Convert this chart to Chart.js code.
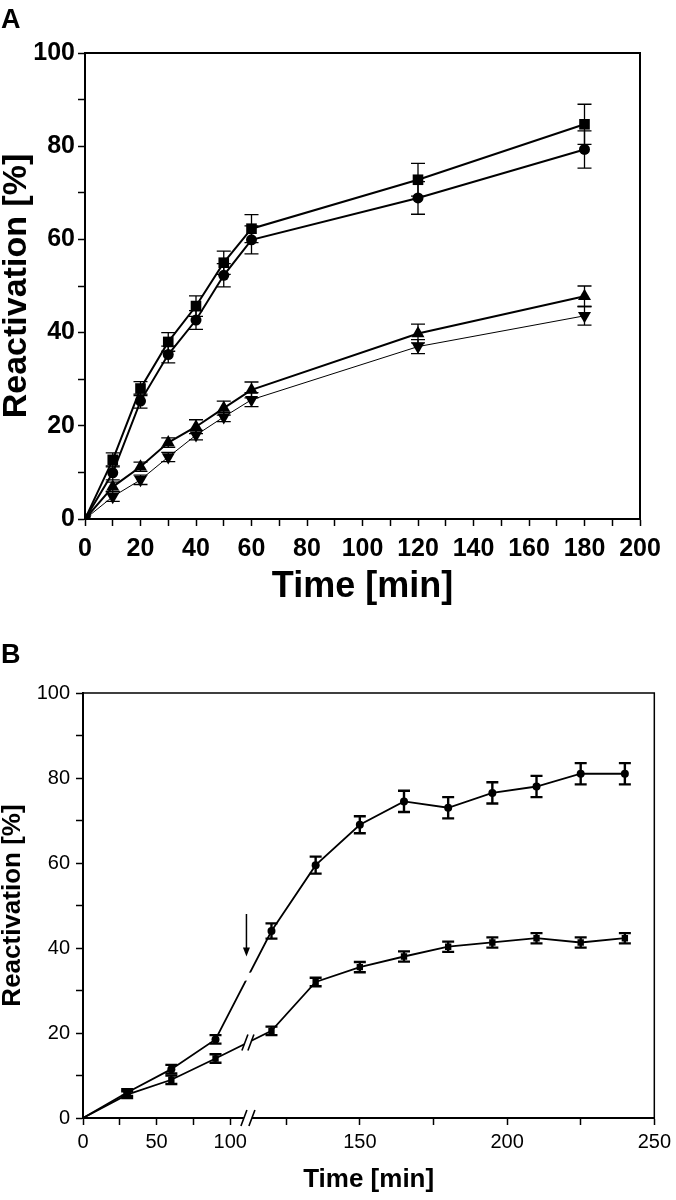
<!DOCTYPE html>
<html>
<head>
<meta charset="utf-8">
<script src="https://cdn.jsdelivr.net/npm/chart.js@4.4.1/dist/chart.umd.min.js"></script>
<style>
    body { margin: 0; background: #fff; width: 676px; height: 1200px; position: relative; overflow: hidden; }
    .panel { position: absolute; left: 0; width: 676px; }
    #wrapA { top: 0; height: 625px; }
    #wrapB { top: 625px; height: 575px; }
    .tag { position: absolute; left: 1px; font-family: 'Liberation Sans', Arial, sans-serif; font-weight: bold; font-size: 27px; line-height: 27px; }
</style>
</head>
<body>
<div class="panel" id="wrapA"><canvas id="chartA" width="676" height="625"></canvas></div>
<div class="panel" id="wrapB"><canvas id="chartB" width="676" height="575"></canvas></div>
<div class="tag" style="top:6px">A</div>
<div class="tag" style="top:641px">B</div>
<script>
// Panel A data — time in minutes, reactivation in %
var timeA = [0, 10, 20, 30, 40, 50, 60, 120, 180];
var squareA = [0, 12.7, 28, 38, 45.7, 55, 62.3, 72.8, 84.7];
var squareErrA = [0, 1.5, 1.5, 2, 2.2, 2.5, 3, 3.5, 4.3];
var circleA = [0, 9.9, 25.3, 35.3, 42.7, 52.3, 59.9, 68.9, 79.3];
var circleErrA = [0, 1.5, 1.5, 1.8, 2, 2.5, 3, 3.5, 4];
var triUpA = [0, 6.9, 11.2, 16.4, 19.8, 23.8, 27.7, 39.8, 47.8];
var triUpErrA = [0, 1, 1, 1, 1.5, 1.5, 1.7, 2, 2.2];
var triDownA = [0, 4.8, 8.4, 13.3, 18, 21.9, 25.6, 37, 43.6];
var triDownErrA = [0, 1, 1, 1, 1, 1, 1.5, 1.5, 2];

// Panel B data — broken time axis
var timeB = [0, 30, 60, 90, 120, 135, 150, 165, 180, 195, 210, 225, 240];
var upperB = [0, 6, 11.5, 18.5, 44, 59.5, 69, 74.5, 73, 76.5, 78, 81, 81];
var upperErrB = [0, 0.8, 1, 1, 1.8, 2, 2, 2.5, 2.5, 2.5, 2.5, 2.5, 2.5];
var lowerB = [0, 5.5, 9, 14, 20.5, 32, 35.5, 38, 40.3, 41.3, 42.3, 41.3, 42.3];
var lowerErrB = [0, 0.8, 1, 1, 1, 1, 1.2, 1.2, 1.2, 1.2, 1.2, 1.2, 1.2];

var BREAK_B = 112;      // minutes where the axis is broken
var STRETCH_B = 2;      // right part is drawn at twice the scale
var arrowB = { time: 111, from: 48, to: 38 };

var BOLD_NARROW = "'Liberation Sans Narrow', 'Liberation Sans', Arial, sans-serif";
var SANS = "'Liberation Sans', Arial, sans-serif";

Chart.defaults.color = '#000';
Chart.defaults.animation = false;

function toPoints(xs, ys) {
    return xs.map(function(x, i) { return { x: x, y: ys[i] }; });
}

// Piecewise linear scale: right of the break gets stretched
class BrokenLinearScale extends Chart.LinearScale {
    warp(v) { return v <= BREAK_B ? v : BREAK_B + (v - BREAK_B) * STRETCH_B; }
    unwarp(u) { return u <= BREAK_B ? u : BREAK_B + (u - BREAK_B) / STRETCH_B; }
    getPixelForValue(value) {
        var a = this.warp(this.min), b = this.warp(this.max);
        return this.getPixelForDecimal((this.warp(value) - a) / (b - a));
    }
    getValueForPixel(pixel) {
        var a = this.warp(this.min), b = this.warp(this.max);
        return this.unwarp(a + this.getDecimalForPixel(pixel) * (b - a));
    }
}
BrokenLinearScale.id = 'brokenLinear';
BrokenLinearScale.defaults = Chart.LinearScale.defaults;
Chart.register(BrokenLinearScale);

var errorBars = {
    id: 'errorBars',
    afterDatasetsDraw: function(chart, args, opts) {
        var ctx = chart.ctx;
        var ys = chart.scales.y;
        chart.data.datasets.forEach(function(ds, i) {
            if (!ds.errors) return;
            var meta = chart.getDatasetMeta(i);
            ctx.save();
            ctx.strokeStyle = '#000';
            ctx.lineWidth = opts.lineWidth;
            meta.data.forEach(function(pt, j) {
                var err = ds.errors[j];
                if (!err) return;
                var v = ds.data[j].y;
                var top = ys.getPixelForValue(v + err);
                var bot = ys.getPixelForValue(v - err);
                ctx.beginPath();
                ctx.moveTo(pt.x, top); ctx.lineTo(pt.x, bot);
                ctx.moveTo(pt.x - opts.cap, top); ctx.lineTo(pt.x + opts.cap, top);
                ctx.moveTo(pt.x - opts.cap, bot); ctx.lineTo(pt.x + opts.cap, bot);
                ctx.stroke();
            });
            ctx.restore();
        });
    }
};

var frame = {
    id: 'frame',
    afterDraw: function(chart, args, opts) {
        var a = chart.chartArea, ctx = chart.ctx;
        ctx.save();
        ctx.strokeStyle = '#000';
        ctx.lineWidth = opts.lineWidth;
        ctx.strokeRect(a.left, a.top, a.right - a.left, a.bottom - a.top);
        ctx.restore();
    }
};

// axis break marks, line break marks and the arrow of panel B
var breakMarks = {
    id: 'breakMarks',
    afterDraw: function(chart) {
        var ctx = chart.ctx;
        var xs = chart.scales.x, ys = chart.scales.y;
        var bx = xs.getPixelForValue(BREAK_B);
        var axisY = chart.chartArea.bottom;
        ctx.save();
        ctx.strokeStyle = '#000';
        ctx.lineWidth = 1.6;

        function slashes(cx, cy, gap) {
            ctx.fillStyle = '#fff';
            ctx.fillRect(cx - gap, cy - 5, gap * 2, 10);
            ctx.beginPath();
            ctx.moveTo(cx - gap - 3, cy + 8); ctx.lineTo(cx - gap + 3, cy - 8);
            ctx.moveTo(cx + gap - 3, cy + 8); ctx.lineTo(cx + gap + 3, cy - 8);
            ctx.stroke();
        }
        slashes(bx, axisY, 4);

        chart.data.datasets.forEach(function(ds, i) {
            var meta = chart.getDatasetMeta(i);
            for (var j = 0; j < ds.data.length - 1; j++) {
                if (ds.data[j].x < BREAK_B && ds.data[j + 1].x > BREAK_B) {
                    var p0 = meta.data[j], p1 = meta.data[j + 1];
                    var t = (bx - p0.x) / (p1.x - p0.x);
                    var cy = p0.y + t * (p1.y - p0.y);
                    if (ds.breakStyle === 'slash') {
                        slashes(bx, cy, 3);
                    } else {
                        ctx.fillStyle = '#fff';
                        ctx.fillRect(bx - 6, cy - 4, 12, 8);
                    }
                }
            }
        });

        var ax = xs.getPixelForValue(arrowB.time);
        var y0 = ys.getPixelForValue(arrowB.from), y1 = ys.getPixelForValue(arrowB.to);
        ctx.lineWidth = 1.5;
        ctx.beginPath();
        ctx.moveTo(ax, y0); ctx.lineTo(ax, y1 - 6);
        ctx.stroke();
        ctx.fillStyle = '#000';
        ctx.beginPath();
        ctx.moveTo(ax - 3.5, y1 - 9); ctx.lineTo(ax + 3.5, y1 - 9); ctx.lineTo(ax, y1);
        ctx.closePath();
        ctx.fill();
        ctx.restore();
    }
};

function seriesA(ys, errs, style, radius, width, rotation) {
    return {
        data: toPoints(timeA, ys),
        errors: errs,
        borderColor: '#000',
        backgroundColor: '#000',
        borderWidth: width,
        pointStyle: style,
        pointRadius: radius,
        pointRotation: rotation || 0,
        pointBorderWidth: 0,
        pointBackgroundColor: '#000',
        tension: 0
    };
}

new Chart(document.getElementById('chartA'), {
    type: 'line',
    data: {
        datasets: [
            seriesA(triDownA, triDownErrA, 'triangle', 7.5, 1, 180),
            seriesA(triUpA, triUpErrA, 'triangle', 7.5, 2),
            seriesA(circleA, circleErrA, 'circle', 5.5, 2),
            seriesA(squareA, squareErrA, 'rect', 7.5, 2)
        ]
    },
    options: {
        responsive: false,
        layout: { padding: { left: 0, top: 53, right: 36, bottom: 0 } },
        plugins: {
            legend: { display: false },
            tooltip: { enabled: false },
            errorBars: { lineWidth: 1.3, cap: 7 },
            frame: { lineWidth: 2 }
        },
        scales: {
            x: {
                type: 'linear',
                min: 0, max: 200,
                afterFit: function(s) { s.height = 106; },
                border: { color: '#000', width: 2 },
                grid: { drawOnChartArea: false, color: '#000', tickLength: 7, tickWidth: 1.5 },
                ticks: {
                    stepSize: 10, autoSkip: false, maxRotation: 0, padding: 8,
                    font: { family: BOLD_NARROW, size: 25, weight: 'bold' },
                    callback: function(v) { return v % 20 === 0 ? v : ''; }
                },
                title: {
                    display: true, text: 'Time [min]',
                    font: { family: BOLD_NARROW, size: 36, weight: 'bold', lineHeight: 1 },
                    padding: { top: 0, bottom: 20 }
                }
            },
            y: {
                min: 0, max: 100,
                afterFit: function(s) { s.width = 85; },
                border: { color: '#000', width: 2 },
                grid: { drawOnChartArea: false, color: '#000', tickLength: 7, tickWidth: 1.5 },
                ticks: {
                    stepSize: 10, autoSkip: false, padding: 3,
                    font: { family: BOLD_NARROW, size: 25, weight: 'bold' },
                    callback: function(v) { return v % 20 === 0 ? v : ''; }
                },
                title: {
                    display: true, text: 'Reactivation [%]',
                    font: { family: SANS, size: 34, weight: 'bold', lineHeight: 1 },
                    padding: { top: 0, bottom: 0 }
                }
            }
        }
    },
    plugins: [errorBars, frame]
});

function seriesB(ys, errs, style, radius, breakStyle) {
    return {
        data: toPoints(timeB, ys),
        errors: errs,
        breakStyle: breakStyle,
        borderColor: '#000',
        backgroundColor: '#000',
        borderWidth: 1.8,
        pointStyle: style,
        pointRadius: function(c) { return c.dataIndex === 0 ? 0 : radius; },
        pointBorderWidth: 0,
        pointBackgroundColor: '#000',
        tension: 0
    };
}

new Chart(document.getElementById('chartB'), {
    type: 'line',
    data: {
        datasets: [
            seriesB(upperB, upperErrB, 'circle', 4, 'gap'),
            seriesB(lowerB, lowerErrB, 'rect', 4.5, 'slash')
        ]
    },
    options: {
        responsive: false,
        layout: { padding: { left: 0, top: 68, right: 15, bottom: 0 } },
        plugins: {
            legend: { display: false },
            tooltip: { enabled: false },
            errorBars: { lineWidth: 2.4, cap: 6 },
            frame: { lineWidth: 1.5 }
        },
        scales: {
            x: {
                type: 'brokenLinear',
                min: 0, max: 250,
                afterFit: function(s) { s.height = 82; },
                border: { color: '#000', width: 2 },
                grid: { drawOnChartArea: false, color: '#000', tickLength: 7, tickWidth: 1.5 },
                ticks: {
                    stepSize: 25, autoSkip: false, maxRotation: 0, padding: 5,
                    font: { family: BOLD_NARROW, size: 20 },
                    callback: function(v) { return v % 50 === 0 ? v : ''; }
                },
                title: {
                    display: true, text: 'Time [min]',
                    font: { family: SANS, size: 26, weight: 'bold', lineHeight: 1 },
                    padding: { top: 0, bottom: 7 }
                }
            },
            y: {
                min: 0, max: 100,
                afterFit: function(s) { s.width = 83; },
                border: { color: '#000', width: 2 },
                grid: { drawOnChartArea: false, color: '#000', tickLength: 7, tickWidth: 1.5 },
                ticks: {
                    stepSize: 10, autoSkip: false, padding: 6,
                    font: { family: BOLD_NARROW, size: 20 },
                    callback: function(v) { return v % 20 === 0 ? v : ''; }
                },
                title: {
                    display: true, text: 'Reactivation [%]',
                    font: { family: SANS, size: 26, weight: 'bold', lineHeight: 1 },
                    padding: { top: 0, bottom: 0 }
                }
            }
        }
    },
    plugins: [errorBars, frame, breakMarks]
});
</script>
</body>
</html>
